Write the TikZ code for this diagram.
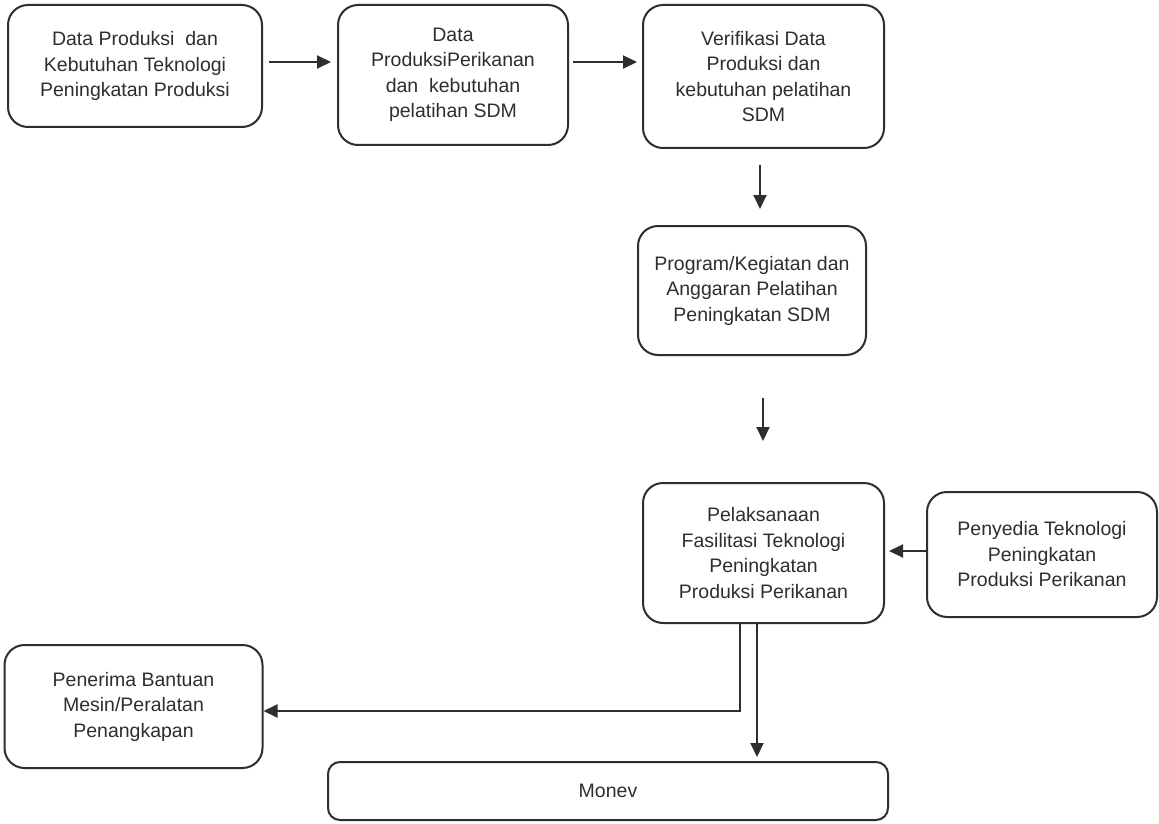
\documentclass[tikz,border=0pt]{standalone}
\usepackage{fontspec}
\setmainfont{Liberation Sans}
\usetikzlibrary{arrows.meta}
\definecolor{ink}{HTML}{2E2E2E}
\begin{document}
\begin{tikzpicture}[x=1pt,y=-1pt,
  stepbox/.style={draw=ink,line width=2pt,rounded corners=20pt,align=center,
    text=ink,font=\fontsize{19.5}{25.5}\selectfont,inner sep=0pt},
  link/.style={draw=ink,line width=2pt,-{Triangle[length=14pt,width=13pt]}}]
\useasboundingbox (0,0) rectangle (1159,824);
\fill[white] (0,0) rectangle (1159,824);

\node[stepbox,minimum width=254pt,minimum height=122pt] (a) at (135,66)
  {Data Produksi\ \ dan\\Kebutuhan Teknologi\\Peningkatan Produksi};
\node[stepbox,minimum width=230pt,minimum height=140pt] (b) at (453,75)
  {Data\\ProduksiPerikanan\\dan\ \ kebutuhan\\pelatihan SDM};
\node[stepbox,minimum width=241pt,minimum height=143pt] (c) at (763.5,76.5)
  {Verifikasi Data\\Produksi dan\\kebutuhan pelatihan\\SDM};
\node[stepbox,minimum width=228pt,minimum height=129pt] (d) at (752,290.5)
  {Program/Kegiatan dan\\Anggaran Pelatihan\\Peningkatan SDM};
\node[stepbox,minimum width=241pt,minimum height=140pt] (e) at (763.5,553)
  {Pelaksanaan\\Fasilitasi Teknologi\\Peningkatan\\Produksi Perikanan};
\node[stepbox,minimum width=230pt,minimum height=125pt] (f) at (1042,554.5)
  {Penyedia Teknologi\\Peningkatan\\Produksi Perikanan};
\node[stepbox,minimum width=258pt,minimum height=123pt] (g) at (133.5,706.5)
  {Penerima Bantuan\\Mesin/Peralatan\\Penangkapan};
\node[stepbox,minimum width=560pt,minimum height=58pt,rounded corners=12pt] (h) at (608,791)
  {Monev};

% free-standing arrows between the stages
\coordinate (cd1) at (760,165);
\coordinate (cd2) at (760,209);
\coordinate (de1) at (763,398);
\coordinate (de2) at (763,441);
\draw[link] (cd1) -- (cd2);
\draw[link] (de1) -- (de2);

\draw[link] ([xshift=6pt]a.east |- 0,62) -- ([xshift=-6pt]b.west |- 0,62);
\draw[link] ([xshift=4pt]b.east |- 0,62) -- ([xshift=-5pt]c.west |- 0,62);
\draw[link] (f.west |- 0,551) -- ([xshift=4pt]e.east |- 0,551);

% outputs of the implementation stage
\draw[link] (e.south -| 740,0) -- (740,711) -- (g.east |- 0,711);
\draw[link] (e.south -| 757,0) -- ([yshift=4pt]h.north -| 757,0);
\end{tikzpicture}
\end{document}
